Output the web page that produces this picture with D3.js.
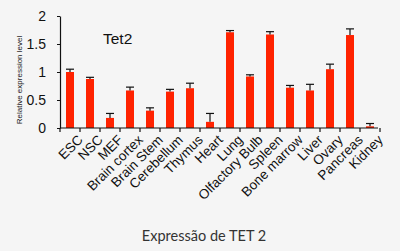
<!DOCTYPE html>
<html>
<head>
<meta charset="utf-8">
<script src="https://cdn.jsdelivr.net/npm/d3@7"></script>
<style>
  body { margin: 0; background: #f5f5f5; }
  svg { display: block; }
</style>
</head>
<body>
<script>
// Tet2 expression per tissue
const tissues = ['ESC', 'NSC', 'MEF', 'Brain cortex', 'Brain Stem', 'Cerebellum',
  'Thymus', 'Heart', 'Lung', 'Olfactory Bulb', 'Spleen', 'Bone marrow',
  'Liver', 'Ovary', 'Pancreas', 'Kidney'];
const levels = [1.0, 0.875, 0.18, 0.67, 0.31, 0.65, 0.71, 0.11, 1.71, 0.92,
  1.67, 0.72, 0.67, 1.05, 1.66, 0.03];
const errors = [0.05, 0.03, 0.08, 0.06, 0.05, 0.04, 0.09, 0.15, 0.03, 0.03,
  0.05, 0.04, 0.11, 0.09, 0.11, 0.05];
const yTicks = [0, 0.5, 1, 1.5, 2];
const yTickLabels = ['0', '0.5', '1', '1.5', '2'];

const data = tissues.map((t, i) => ({ t, v: levels[i], e: errors[i] }));

const svg = d3.select('body').append('svg')
    .attr('width', 400)
    .attr('height', 251);

const x = d3.scaleBand()
    .domain(tissues)
    .range([60, 380])
    .paddingInner(0.6)
    .paddingOuter(0.3);

const y = d3.scaleLinear()
    .domain([0, 2])
    .range([128, 16]);

// bars
svg.selectAll('rect.bar')
    .data(data)
    .enter()
  .append('rect')
    .attr('class', 'bar')
    .attr('x', d => x(d.t))
    .attr('width', x.bandwidth())
    .attr('y', d => y(d.v))
    .attr('height', d => y(0) - y(d.v))
    .attr('fill', '#ff2200');

// error bars (upper only)
const eb = svg.append('g')
    .attr('stroke', '#111')
    .attr('stroke-width', 1.2);
eb.selectAll('line.err')
    .data(data)
    .enter()
  .append('line')
    .attr('x1', d => x(d.t) + x.bandwidth() / 2)
    .attr('x2', d => x(d.t) + x.bandwidth() / 2)
    .attr('y1', d => y(d.v))
    .attr('y2', d => y(d.v + d.e));
eb.selectAll('line.cap')
    .data(data)
    .enter()
  .append('line')
    .attr('x1', d => x(d.t) + x.bandwidth() / 2 - 4)
    .attr('x2', d => x(d.t) + x.bandwidth() / 2 + 4)
    .attr('y1', d => y(d.v + d.e))
    .attr('y2', d => y(d.v + d.e));

// y axis
const yAxis = svg.append('g')
    .attr('transform', 'translate(60,0)')
    .call(d3.axisLeft(y).tickValues(yTicks)
      .tickFormat((d, i) => yTickLabels[i]).tickSize(3).tickSizeOuter(0));
yAxis.select('.domain').attr('stroke', '#111').attr('stroke-width', 1.2);
yAxis.selectAll('.tick line').attr('stroke', '#111');
yAxis.selectAll('.tick text')
    .attr('x', -14)
    .attr('font-family', 'Liberation Sans, Arial, sans-serif')
    .attr('font-size', 14)
    .attr('fill', '#111');

// x axis with ticks between bars
const xAxisG = svg.append('g')
    .attr('transform', 'translate(0,128)');
xAxisG.append('line')
    .attr('x1', 60).attr('x2', 378)
    .attr('stroke', '#111').attr('stroke-width', 1.2);
xAxisG.selectAll('line.sep')
    .data(d3.range(tissues.length + 1))
    .enter()
  .append('line')
    .attr('x1', i => 60 + i * x.step())
    .attr('x2', i => 60 + i * x.step())
    .attr('y1', 0).attr('y2', 4)
    .attr('stroke', '#111').attr('stroke-width', 1.2);

svg.append('g')
    .selectAll('text')
    .data(tissues)
    .enter()
  .append('text')
    .attr('transform', d => `translate(${x(d) + x.bandwidth() / 2 + 7},${134}) rotate(-45)`)
    .attr('text-anchor', 'end')
    .attr('dy', '0.7em')
    .attr('font-family', 'Liberation Sans, Arial, sans-serif')
    .attr('font-size', 13.5)
    .attr('fill', '#111')
    .text(d => d);

// y label
svg.append('text')
    .attr('transform', 'translate(22,80) rotate(-90)')
    .attr('text-anchor', 'middle')
    .attr('font-family', 'Liberation Sans, Arial, sans-serif')
    .attr('font-size', 8)
    .attr('fill', '#222')
    .text('Relative expression level');

// title inside plot
svg.append('text')
    .attr('x', 103).attr('y', 44)
    .attr('font-family', 'Liberation Sans, Arial, sans-serif')
    .attr('font-size', 15.5)
    .attr('fill', '#111')
    .text('Tet2');

// caption
svg.append('text')
    .attr('x', 204).attr('y', 241)
    .attr('text-anchor', 'middle')
    .attr('font-family', 'Lato, sans-serif')
    .attr('font-size', 14.5)
    .attr('fill', '#333')
    .text('Expressão de TET 2');
</script>
</body>
</html>
